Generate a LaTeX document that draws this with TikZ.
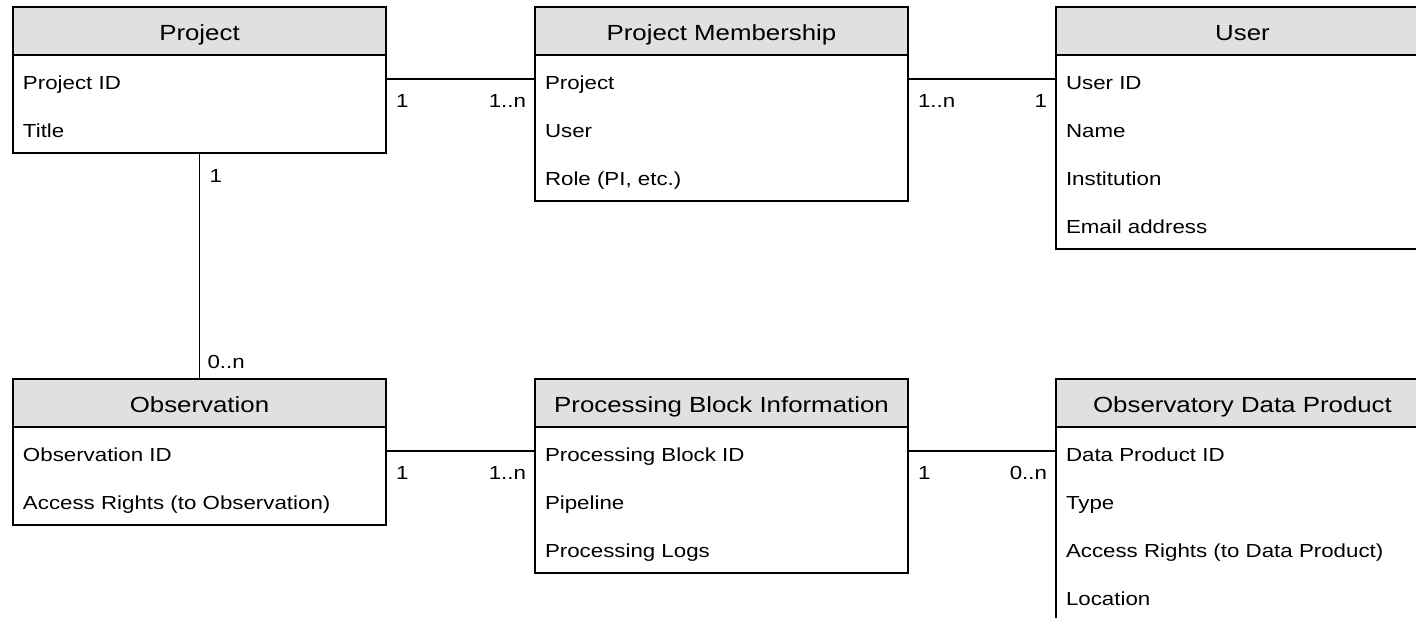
\documentclass[tikz,border=0pt]{standalone}
\usepackage{fontspec}
\setmainfont{Liberation Sans}[FakeStretch=1.18]
\usetikzlibrary{calc}
\definecolor{hgrey}{HTML}{E0E0E0}
\tikzset{
  every picture/.style={x=1pt, y=-1pt, line width=2pt},
  ehead/.style={draw, fill=hgrey, minimum width=373pt, minimum height=48pt, inner sep=0pt, outer sep=0pt,
    text height=24pt, text depth=4.4pt, font=\fontsize{21.9}{26}\selectfont},
  ebody/.style={draw, fill=white, minimum width=373pt, inner sep=0pt, anchor=north},
  erow/.style={anchor=base west, inner sep=0pt, font=\fontsize{18.9}{22}\selectfont},
  link/.style={line width=1.5pt},
  card/.style={inner sep=0pt, font=\fontsize{18.9}{22}\selectfont},
}
% name, x, y, title, number of rows, rows
\newcommand\entity[6]{%
  \node[ehead, anchor=north west] (#1) at (#2,#3) {#4};
  \node[ebody, minimum height=48*#5+2, outer sep=0pt] (#1-body) at (#1.south) {};
  \foreach \r [count=\i] in {#6}
    \node[erow] (#1-\i) at ($(#1.south west)+(9,34+48*\i-48)$) {\r};
}

\begin{document}
\begin{tikzpicture}
  \clip (0,0) rectangle (1416,618);
  % entities
  \entity{proj}{13}{7}{Project}{2}{Project ID, Title}
  \entity{pm}{535}{7}{Project Membership}{3}{Project, User, {Role (PI, etc.)}}
  \entity{user}{1056}{7}{User}{4}{User ID, Name, Institution, Email address}
  \entity{obs}{13}{379}{Observation}{2}{Observation ID, Access Rights (to Observation)}
  \entity{pbi}{535}{379}{Processing Block Information}{3}{Processing Block ID, Pipeline, Processing Logs}
  \entity{odp}{1056}{379}{Observatory Data Product}{4}{Data Product ID, Type, Access Rights (to Data Product), Location}
  % project -- membership
  \draw[link] ($(proj.south east)+(0,24)$) coordinate (r1s) -- (r1s -| pm.west) coordinate (r1t);
  \node[card, anchor=base west] (r1a) at ($(r1s)+(9,28)$) {1};
  \node[card, anchor=base east] (r1b) at ($(r1t)+(-8,28)$) {1..n};
  % membership -- user
  \draw[link] ($(pm.south east)+(0,24)$) coordinate (r2s) -- (r2s -| user.west) coordinate (r2t);
  \node[card, anchor=base west] (r2a) at ($(r2s)+(9,28)$) {1..n};
  \node[card, anchor=base east] (r2b) at ($(r2t)+(-8,28)$) {1};
  % project -- observation
  \draw[link] (proj-body.south) -- (obs.north);
  \node[card, anchor=base west] (r3a) at ($(proj-body.south)+(9,29)$) {1};
  \node[card, anchor=base west] (r3b) at ($(obs.north)+(7,-11)$) {0..n};
  % observation -- processing block
  \draw[link] ($(obs.south east)+(0,24)$) coordinate (r4s) -- (r4s -| pbi.west) coordinate (r4t);
  \node[card, anchor=base west] (r4a) at ($(r4s)+(9,28)$) {1};
  \node[card, anchor=base east] (r4b) at ($(r4t)+(-8,28)$) {1..n};
  % processing block -- data product
  \draw[link] ($(pbi.south east)+(0,24)$) coordinate (r5s) -- (r5s -| odp.west) coordinate (r5t);
  \node[card, anchor=base west] (r5a) at ($(r5s)+(9,28)$) {1};
  \node[card, anchor=base east] (r5b) at ($(r5t)+(-8,28)$) {0..n};
\end{tikzpicture}
\end{document}
